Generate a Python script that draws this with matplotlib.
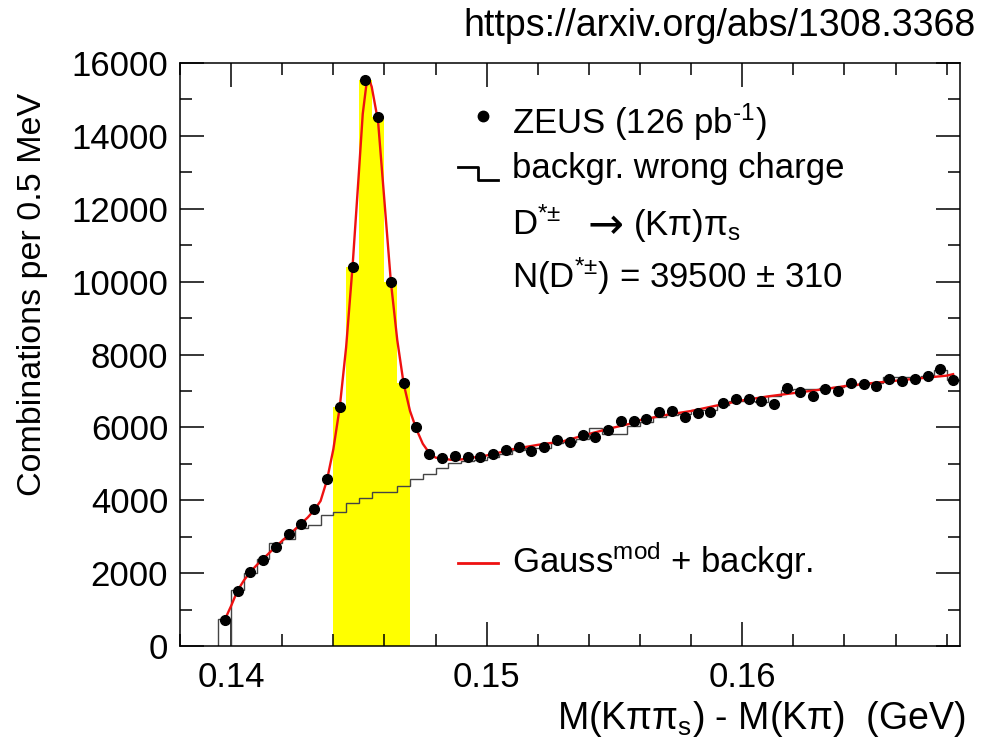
"""D*+- signal in the ZEUS delta-M distribution (arXiv:1308.3368), redrawn."""
import numpy as np
import matplotlib
matplotlib.use("Agg")
import matplotlib.pyplot as plt
from matplotlib.ticker import MultipleLocator, FormatStrFormatter

plt.rcParams["font.family"] = ["Liberation Sans", "DejaVu Sans"]
plt.rcParams["mathtext.fontset"] = "custom"
plt.rcParams["mathtext.rm"] = "Liberation Sans"
plt.rcParams["mathtext.it"] = "Liberation Sans:italic"
plt.rcParams["mathtext.bf"] = "Liberation Sans:bold"

# ---- data -----------------------------------------------------------------
BIN_LO, BIN_W, N_BINS = 0.1395, 0.0005, 58     # 0.5 MeV bins
SIG_LO, SIG_HI = 0.144, 0.147                   # shaded signal window

data = [700, 1510, 2040, 2370, 2730, 3070, 3340, 3760, 4590, 6550,
        10390, 15530, 14510, 10000, 7220, 6000, 5260, 5150, 5220, 5200,
        5180, 5260, 5380, 5450, 5360, 5450, 5660, 5610, 5790, 5730,
        5930, 6180, 6180, 6230, 6420, 6450, 6280, 6390, 6410, 6660,
        6770, 6780, 6730, 6650, 7080, 6960, 6870, 7050, 7010, 7230,
        7200, 7140, 7330, 7260, 7320, 7400, 7610, 7290]

wrong_charge = [740, 1540, 2000, 2380, 2820, 2950, 3230, 3330, 3600, 3690,
                3930, 4050, 4240, 4240, 4400, 4590, 4720, 4880, 5030, 5080,
                5100, 5180, 5280, 5380, 5430, 5440, 5580, 5610, 5680, 5990,
                5810, 5820, 6040, 6160, 6280, 6350, 6370, 6480, 6480, 6620,
                6730, 6730, 6700, 6850, 7030, 7050, 7050, 7080, 7120, 7150,
                7200, 7230, 7370, 7370, 7380, 7420, 7580, 7300]

# fitted curve (Gauss^mod + background), sampled from the plot
fit_x = [0.13970, 0.14000, 0.14025, 0.14050, 0.14075, 0.14100, 0.14150,
         0.14200, 0.14250, 0.14300, 0.14325, 0.14350, 0.14375, 0.14400,
         0.14425, 0.14450, 0.14475, 0.14500, 0.14515, 0.14530, 0.14540,
         0.14550, 0.14575, 0.14600, 0.14625, 0.14650, 0.14675, 0.14700,
         0.14725, 0.14750, 0.14775, 0.14800, 0.14860, 0.14900, 0.15000,
         0.15050, 0.15100, 0.15200, 0.15300, 0.15400, 0.15500, 0.15570,
         0.15600, 0.15700, 0.15800, 0.15900, 0.16000, 0.16100, 0.16200,
         0.16300, 0.16400, 0.16500, 0.16600, 0.16700, 0.16800, 0.16825]
fit_y = [640, 1100, 1520, 1800, 2030, 2220, 2560,
         2890, 3200, 3530, 3730, 3980, 4550, 5400,
         6550, 8200, 10400, 13000, 14600, 15450, 15550,
         15350, 14400, 12200, 10000, 8400, 7200, 6450,
         5950, 5550, 5300, 5170, 5110, 5120, 5230,
         5310, 5400, 5520, 5620, 5820, 6000, 6115,
         6200, 6340, 6450, 6600, 6740, 6850, 6940,
         7030, 7130, 7210, 7280, 7350, 7420, 7460]

edges = BIN_LO + BIN_W * np.arange(N_BINS + 1)
centers = 0.5 * (edges[:-1] + edges[1:])
data = np.array(data)
wrong_charge = np.array(wrong_charge)
sig = (centers > SIG_LO) & (centers < SIG_HI)

W, H = 982, 744
RED = "#ee1111"


def fig_xy(px, py):
    """image pixel -> figure fraction"""
    return px / W, 1 - py / H


fig = plt.figure(figsize=(W / 100, H / 100), dpi=100)
ax = fig.add_axes([180 / W, 1 - 646 / H, 779.5 / W, 583 / H])

ax.bar(centers[sig], data[sig], width=BIN_W, color="#ffff00", lw=0, zorder=1)
ax.stairs(wrong_charge, edges, baseline=0, color="#444444", lw=1.0, zorder=2)
ax.vlines(edges[1], 0, wrong_charge[0], color="#444444", lw=1.0, zorder=2)
ax.plot(fit_x, fit_y, color=RED, lw=1.7, zorder=3)
ax.plot(centers, data, "o", color="black", ms=7, zorder=4)

ax.set_xlim(0.138, 0.1685)
ax.set_ylim(0, 16000)
ax.xaxis.set_major_locator(MultipleLocator(0.01))
ax.xaxis.set_minor_locator(MultipleLocator(0.002))
ax.xaxis.set_major_formatter(FormatStrFormatter("%.2f"))
ax.yaxis.set_major_locator(MultipleLocator(2000))
ax.yaxis.set_minor_locator(MultipleLocator(1000))
ax.tick_params(which="both", direction="in", top=True, right=True,
               width=1.1, labelsize=25)
ax.tick_params(which="major", length=17)
ax.tick_params(which="minor", length=8.5)
ax.tick_params(axis="y", pad=8.5)
ax.tick_params(axis="x", pad=11)
for s in ax.spines.values():
    s.set_linewidth(1.1)

# axis titles, ROOT style
fig.text(*fig_xy(33, 93), "Combinations per 0.5 MeV", rotation=90,
         ha="center", va="top", fontsize=24.5)
fig.text(*fig_xy(966, 729), r"M(Kππ$_{\mathrm{s}}$) - M(Kπ)  (GeV)",
         ha="right", va="baseline", fontsize=27)
fig.text(*fig_xy(976, 36), "https://arxiv.org/abs/1308.3368",
         ha="right", va="baseline", fontsize=27)

# legend, drawn by hand like the original
fs = 25
tx = 512
fig.lines.append(plt.Line2D(*zip(fig_xy(483, 116)), marker="o", ms=7.5,
                            color="black", transform=fig.transFigure))
fig.text(*fig_xy(tx, 134), "ZEUS (126 pb$^{\\mathrm{\u2010}1}$)",
         va="baseline", fontsize=fs)
step = [fig_xy(458, 167), fig_xy(478, 167), fig_xy(478, 180), fig_xy(498, 180)]
fig.lines.append(plt.Line2D([p[0] for p in step], [p[1] for p in step],
                            color="black", lw=2, transform=fig.transFigure))
fig.text(*fig_xy(tx, 178), "backgr. wrong charge", va="baseline", fontsize=fs)
fig.text(*fig_xy(tx, 235), "D$^{*±}$", va="baseline", fontsize=fs)
fig.text(*fig_xy(587, 238), "\u2192", va="baseline", fontsize=31,
         family="DejaVu Sans")
fig.text(*fig_xy(633, 235), r"(Kπ)π$_{\mathrm{s}}$", va="baseline", fontsize=fs)
fig.text(*fig_xy(tx, 288), "N(D$^{*±}$) = 39500 ± 310",
         va="baseline", fontsize=fs)
red = [fig_xy(458, 563), fig_xy(498, 563)]
fig.lines.append(plt.Line2D([p[0] for p in red], [p[1] for p in red],
                            color=RED, lw=2, transform=fig.transFigure))
fig.text(*fig_xy(tx, 573), r"Gauss$^{\mathrm{mod}}$ + backgr.",
         va="baseline", fontsize=fs)

fig.savefig("out.png", dpi=100)
